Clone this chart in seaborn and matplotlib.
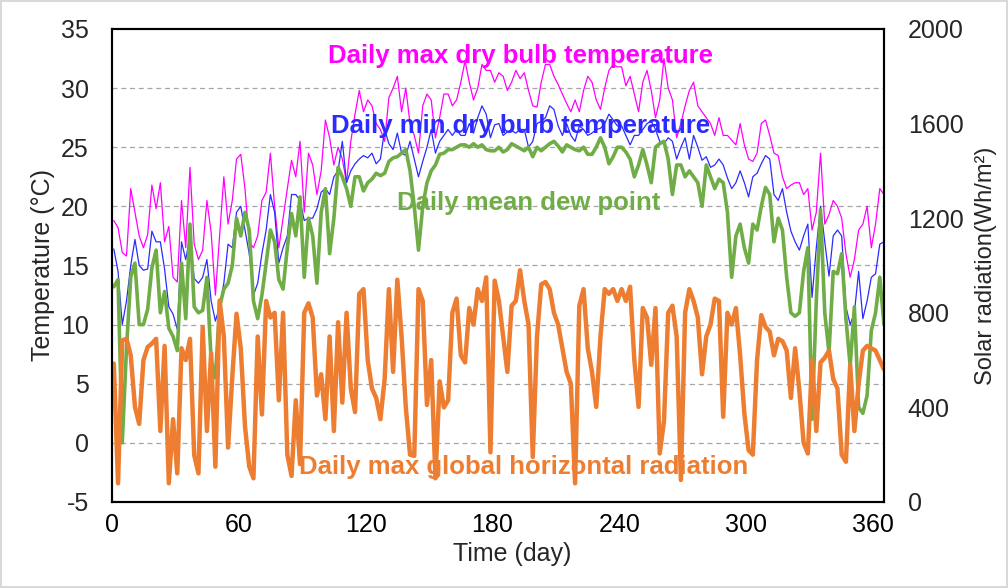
import numpy as np
import pandas as pd
import matplotlib
matplotlib.use("Agg")
import matplotlib.pyplot as plt
import seaborn as sns

# ---------------- data (every 2 days) ----------------
days = list(range(1, 366, 2))

max_dry_bulb = [
    18.8, 18.2, 16.1, 15.8, 21.5, 19.5, 17.5, 16.5, 17.6, 21.8, 19.8, 22.0, 17.0, 18.3, 14.0,
    13.6, 20.5, 16.5, 23.3, 16.8, 15.5, 16.3, 20.5, 17.8, 12.5, 17.5, 22.5, 18.5, 20.5, 24.0,
    24.4, 21.5, 17.0, 16.5, 17.5, 20.5, 21.2, 24.5, 20.0, 16.5, 19.0, 21.5, 23.9, 22.5, 25.5,
    19.5, 24.5, 23.5, 21.0, 23.0, 27.3, 25.8, 23.5, 25.0, 24.0, 22.0, 25.5, 27.8, 29.8, 28.0,
    29.0, 28.5, 27.0, 26.5, 25.5, 29.2, 30.0, 31.0, 28.0, 30.0, 27.0, 26.0, 24.5, 28.5, 29.5,
    29.0, 25.8, 27.5, 29.5, 29.5, 28.5, 29.0, 30.5, 32.3, 30.5, 29.0, 30.0, 32.0, 31.5, 31.5,
    30.5, 31.3, 31.0, 29.8, 30.5, 31.5, 30.8, 31.3, 29.8, 28.5, 28.4, 30.5, 32.0, 32.0, 31.0,
    30.3, 29.5, 28.7, 28.0, 29.0, 28.0, 29.8, 31.0, 30.5, 29.0, 28.2, 30.0, 31.5, 32.0, 31.8,
    31.8, 30.2, 31.0, 29.5, 28.0, 30.5, 31.5, 29.8, 27.5, 29.0, 32.5, 30.0, 29.0, 25.8, 27.0,
    28.5, 29.8, 30.5, 28.5, 28.0, 27.5, 27.0, 26.0, 27.5, 26.0, 26.0, 25.6, 25.2, 27.0, 25.2,
    24.0, 23.8, 24.5, 27.0, 27.3, 26.0, 24.5, 24.3, 22.5, 21.5, 21.8, 22.0, 22.0, 21.0, 21.5,
    18.0, 19.5, 24.5, 18.5, 19.3, 20.5, 20.0, 19.0, 16.0, 14.0, 15.5, 18.0, 18.5, 20.0, 16.5,
    18.5, 21.5, 21.0,
]

min_dry_bulb = [
    16.4, 14.5, 10.0, 12.0, 15.0, 17.2, 15.0, 14.6, 14.7, 17.9, 17.0, 17.0, 14.7, 11.5, 10.9,
    9.6, 17.0, 15.5, 17.5, 13.9, 13.5, 14.0, 15.5, 12.0, 10.3, 11.5, 13.5, 16.8, 16.5, 19.5,
    20.0, 18.0, 16.0, 12.5, 13.5, 16.0, 18.0, 21.0, 19.5, 15.2, 16.5, 17.5, 21.0, 21.0, 20.5,
    18.8, 19.0, 19.0, 19.8, 21.2, 21.5, 21.0, 22.5, 23.0, 25.5, 22.0, 23.0, 23.6, 24.0, 24.3,
    24.1, 24.5, 23.6, 24.0, 26.5, 25.3, 24.8, 26.2, 24.5, 24.3, 25.5, 24.0, 22.5, 23.8, 25.0,
    26.5, 24.5, 25.5, 26.0, 26.5, 26.0, 26.5, 26.0, 26.0, 27.0, 26.2, 27.5, 28.5, 27.8, 25.8,
    26.9, 27.0, 26.0, 26.3, 26.4, 26.2, 26.5, 26.5, 25.0, 25.5, 27.0, 27.2, 27.5, 28.5, 28.2,
    26.8, 26.0, 27.0, 26.0, 25.5, 26.8, 26.5, 26.0, 26.2, 26.5, 26.6, 27.0, 27.8, 27.3, 26.8,
    26.8, 26.0, 25.2, 26.0, 26.0, 26.5, 27.0, 27.2, 26.5, 25.5, 25.3, 25.8, 25.5, 24.0, 25.0,
    25.8, 24.0, 26.0, 25.0, 23.9, 24.2, 23.3, 23.5, 24.0, 23.5, 22.4, 21.5, 22.0, 23.0, 22.0,
    20.8, 22.5, 22.8, 23.6, 24.3, 24.0, 21.0, 20.5, 21.5, 19.5, 17.9, 17.0, 16.3, 17.5, 18.5,
    12.3, 16.5, 20.0, 17.0, 14.1, 17.5, 18.0, 17.5, 11.5, 10.0, 11.0, 14.5, 10.5, 12.0, 14.0,
    14.3, 16.8, 17.0,
]

mean_dew_point = [
    13.2, 13.8, 0.0, 8.0, 14.0, 15.2, 10.0, 10.0, 11.3, 14.8, 16.3, 11.0, 12.8, 9.7, 9.0,
    7.8, 15.2, 10.5, 18.5, 11.5, 11.0, 11.2, 14.0, 7.0, 5.5, 11.5, 13.0, 13.5, 15.0, 19.0,
    17.5, 19.5, 18.0, 12.0, 10.5, 12.5, 15.2, 18.0, 17.0, 13.8, 13.0, 16.5, 19.4, 17.5, 20.8,
    14.0, 19.0, 17.5, 13.5, 19.5, 21.5, 16.0, 19.0, 23.3, 22.5, 21.5, 20.0, 22.5, 22.5, 21.3,
    22.0, 22.3, 22.8, 22.6, 22.8, 23.8, 24.1, 24.2, 24.5, 24.8, 23.0, 20.0, 16.3, 20.0, 22.0,
    23.0, 23.5, 24.4, 24.5, 24.8, 24.8, 25.0, 25.2, 25.2, 25.0, 25.3, 25.0, 25.2, 24.8, 24.7,
    24.7, 25.0, 24.6, 24.8, 25.3, 25.1, 24.9, 24.7, 25.0, 24.2, 25.0, 24.7, 25.0, 25.3, 25.5,
    25.1, 24.6, 25.2, 25.0, 24.8, 24.7, 25.0, 24.4, 24.4, 25.0, 25.8, 25.0, 23.6, 24.2, 25.0,
    25.0, 24.6, 24.0, 22.5, 23.5, 24.8, 23.5, 22.0, 25.0, 25.3, 25.5, 24.0, 21.0, 23.5, 23.5,
    22.5, 23.0, 22.5, 22.0, 20.0, 23.5, 22.5, 21.5, 22.3, 22.0, 19.5, 14.0, 17.5, 18.5, 16.5,
    15.2, 18.5, 18.0, 20.0, 21.6, 21.0, 17.0, 19.0, 18.0, 14.0, 11.0, 10.7, 11.0, 14.5, 16.5,
    2.0, 12.0, 19.7, 11.0, 7.6, 14.5, 14.3, 16.0, 10.5, 6.5, 11.5, 3.0, 2.5, 4.0, 9.5,
    11.0, 14.0, 10.0,
]

max_global_radiation = [
    585, 79, 683, 690, 620, 402, 330, 600, 655, 670, 690, 300, 660, 79, 350,
    121, 650, 600, 690, 198, 121, 740, 300, 630, 149, 852, 700, 230, 530, 796,
    650, 320, 150, 100, 700, 370, 850, 780, 800, 430, 800, 200, 110, 430, 160,
    800, 840, 780, 450, 540, 350, 700, 300, 760, 420, 800, 480, 380, 880, 900,
    600, 480, 440, 350, 520, 900, 550, 940, 700, 400, 200, 195, 900, 850, 410,
    600, 100, 510, 400, 430, 800, 860, 620, 590, 820, 750, 900, 850, 950, 210,
    936, 850, 700, 550, 830, 850, 980, 850, 750, 190, 700, 920, 930, 900, 800,
    750, 650, 550, 500, 79, 830, 900, 650, 550, 402, 700, 900, 880, 900, 850,
    900, 850, 910, 600, 402, 820, 780, 580, 820, 205, 340, 800, 830, 700, 93,
    800, 900, 850, 780, 540, 700, 750, 860, 850, 360, 800, 750, 820, 620, 374,
    219, 200, 600, 790, 740, 720, 620, 690, 680, 640, 440, 650, 470, 250, 205,
    600, 300, 590, 610, 640, 520, 480, 200, 170, 580, 300, 500, 640, 660, 650,
    640, 600, 560,
]

series_names = [
    "Daily max dry bulb temperature",
    "Daily min dry bulb temperature",
    "Daily mean dew point",
    "Daily max global horizontal radiation",
]

x_ticks = [0, 60, 120, 180, 240, 300, 360]
temp_ticks = [-5, 0, 5, 10, 15, 20, 25, 30, 35]
rad_ticks = [0, 400, 800, 1200, 1600, 2000]

# ---------------- style ----------------
sns.set_theme(style="white")
plt.rcParams["font.family"] = ["Liberation Sans", "DejaVu Sans"]
plt.rcParams["axes.unicode_minus"] = False

MAGENTA = "#FF00FF"
BLUE = "#2B2BFF"
GREEN = "#70AD47"
ORANGE = "#ED7D31"

df = pd.DataFrame({
    "day": days,
    "tmax": max_dry_bulb,
    "tmin": min_dry_bulb,
    "dew": mean_dew_point,
    "rad": max_global_radiation,
})

fig = plt.figure(figsize=(10.08, 5.88), dpi=100)
fig.patch.set_edgecolor("#D9D9D9")
fig.patch.set_linewidth(1.5)
ax = fig.add_axes([0.1108, 0.1463, 0.7662, 0.8044])
ax2 = ax.twinx()

sns.lineplot(data=df, x="day", y="tmax", ax=ax, color=MAGENTA, linewidth=0.9)
sns.lineplot(data=df, x="day", y="tmin", ax=ax, color=BLUE, linewidth=0.9)
sns.lineplot(data=df, x="day", y="dew", ax=ax, color=GREEN, linewidth=2.6)
sns.lineplot(data=df, x="day", y="rad", ax=ax2, color=ORANGE, linewidth=3.2)

ax.set_xlim(0, 365)
ax.set_ylim(-5, 35)
ax2.set_ylim(0, 2000)
ax.set_xticks(x_ticks)
ax.set_yticks(temp_ticks)
ax2.set_yticks(rad_ticks)

for y in temp_ticks[1:-1]:
    ax.axhline(y, color="#A6A6A6", linestyle=(0, (4, 3)), linewidth=0.9, zorder=0)

ax.set_xlabel("Time (day)", fontsize=18)
ax.set_ylabel("Temperature (°C)", fontsize=18)
ax2.set_ylabel("Solar radiation(Wh/m²)", fontsize=17)
ax.xaxis.set_label_coords(0.518, -0.085)
ax.yaxis.set_label_coords(-0.074, 0.5)
ax2.yaxis.set_label_coords(1.118, 0.5)

ax.tick_params(axis="x", direction="in", length=7, width=1, labelsize=18, pad=8, colors="black")
ax.tick_params(axis="y", length=0, labelsize=18, pad=16.5)
ax2.tick_params(axis="y", length=0, labelsize=18, pad=17)

for a in (ax, ax2):
    for s in a.spines.values():
        s.set_color("black")
        s.set_linewidth(1.5)

tkw = dict(fontsize=18.5, fontweight="bold", ha="center", va="center", transform=ax.transData)
ax2.text(193, 32.7, series_names[0], color=MAGENTA, **tkw)
ax2.text(193, 26.8, series_names[1], color=BLUE, **tkw)
ax2.text(197, 20.3, series_names[2], color=GREEN, **tkw)
ax2.text(194.5, -2.0, series_names[3], color=ORANGE, **tkw)

fig.savefig("out.png", dpi=100)
